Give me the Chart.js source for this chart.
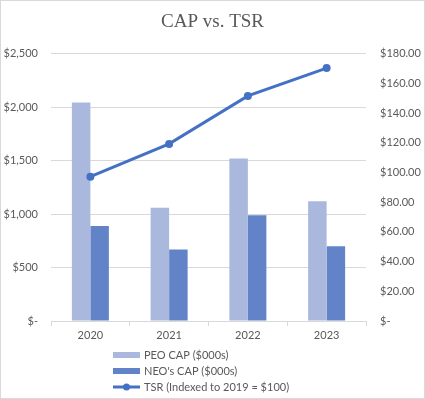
<!DOCTYPE html>
<html>
<head>
<meta charset="utf-8">
<script src="https://cdn.jsdelivr.net/npm/chart.js@4"></script>
<style>
  html, body { margin: 0; padding: 0; background: #fff; }
  #wrap { width: 425px; height: 399px; }
</style>
</head>
<body>
<div id="wrap"><canvas id="capChart" width="425" height="399"></canvas></div>
<script>
const years = ['2020', '2021', '2022', '2023'];
const peoCap = [2045, 1060, 1520, 1120];
const neoCap = [890, 670, 990, 700];
const tsr = [97.2, 119.3, 151.6, 170.4];

const labelPeo = 'PEO CAP ($000s)';
const labelNeo = "NEO's CAP ($000s)";
const labelTsr = 'TSR (Indexed to 2019 = $100)';

const grey = '#595959';
const gridGrey = '#d9d9d9';
const tickFont = { family: 'Lato', size: 11 };

// legend drawn by hand: one item per row, like the excel version
const stackedLegend = {
    id: 'stackedLegend',
    afterDraw(chart) {
        const ctx = chart.ctx;
        const sets = chart.data.datasets;
        ctx.save();
        ctx.font = '11px Lato';
        ctx.textBaseline = 'middle';
        sets.forEach((ds, i) => {
            const y = 355 + i * 16;
            const x = 113;
            if (ds.type === 'line') {
                ctx.strokeStyle = ds.borderColor;
                ctx.lineWidth = 3;
                ctx.beginPath();
                ctx.moveTo(x, y);
                ctx.lineTo(x + 27, y);
                ctx.stroke();
                ctx.fillStyle = ds.borderColor;
                ctx.beginPath();
                ctx.arc(x + 13.5, y, 3.5, 0, Math.PI * 2);
                ctx.fill();
            } else {
                ctx.fillStyle = ds.backgroundColor;
                ctx.fillRect(x, y - 3, 27, 6);
            }
            ctx.fillStyle = grey;
            ctx.fillText(ds.label, x + 31, y);
        });
        // thin frame round the whole chart
        ctx.strokeStyle = gridGrey;
        ctx.lineWidth = 1;
        ctx.strokeRect(0.5, 0.5, chart.width - 1, chart.height - 1);
        ctx.restore();
    }
};

new Chart(document.getElementById('capChart'), {
    type: 'bar',
    data: {
        labels: years,
        datasets: [
            {
                label: labelPeo,
                data: peoCap,
                backgroundColor: '#abb8de',
                yAxisID: 'y',
                order: 1,
                categoryPercentage: 0.47,
                barPercentage: 1
            },
            {
                label: labelNeo,
                data: neoCap,
                backgroundColor: '#6283c8',
                yAxisID: 'y',
                order: 1,
                categoryPercentage: 0.47,
                barPercentage: 1
            },
            {
                type: 'line',
                label: labelTsr,
                data: tsr,
                borderColor: '#4571c4',
                backgroundColor: '#4571c4',
                borderWidth: 3,
                pointRadius: 4,
                pointBackgroundColor: '#4571c4',
                pointBorderWidth: 0,
                tension: 0,
                yAxisID: 'y1',
                order: 0
            }
        ]
    },
    options: {
        responsive: false,
        animation: false,
        layout: { padding: { left: 0, right: 0, top: 0, bottom: 50 } },
        plugins: {
            legend: { display: false },
            tooltip: { enabled: false },
            title: {
                display: true,
                text: 'CAP vs. TSR',
                color: grey,
                font: { family: 'Liberation Serif', size: 19, weight: 'normal' },
                padding: { top: 11, bottom: 20 }
            }
        },
        scales: {
            x: {
                grid: {
                    drawOnChartArea: false,
                    drawTicks: true,
                    tickLength: 5,
                    color: gridGrey
                },
                border: { display: true, color: gridGrey },
                ticks: { color: grey, font: tickFont, padding: 3 },
                afterFit: (scale) => { scale.height = 28; }
            },
            y: {
                position: 'left',
                min: 0,
                max: 2500,
                grid: { color: gridGrey, drawTicks: false },
                border: { display: false },
                ticks: {
                    stepSize: 500,
                    color: grey,
                    font: tickFont,
                    padding: 13,
                    callback: (v) => v === 0 ? '$-' : '$' + v.toLocaleString('en-US')
                },
                afterFit: (scale) => { scale.width = 51; }
            },
            y1: {
                position: 'right',
                min: 0,
                max: 180,
                grid: { display: false, drawTicks: false },
                border: { display: false },
                ticks: {
                    stepSize: 20,
                    color: grey,
                    font: tickFont,
                    padding: 14,
                    callback: (v) => v === 0 ? '$-' : '$' + v.toFixed(2)
                },
                afterFit: (scale) => { scale.width = 59; }
            }
        }
    },
    plugins: [stackedLegend]
});
</script>
</body>
</html>
